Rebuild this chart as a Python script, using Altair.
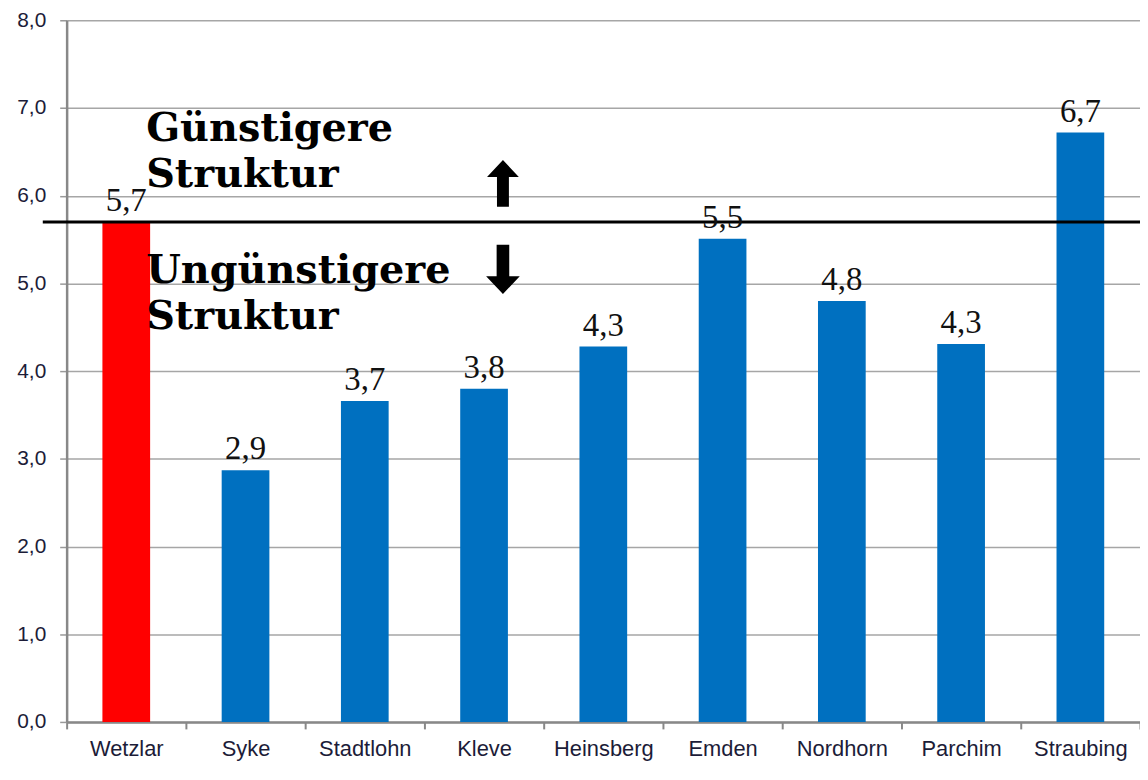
import altair as alt
import pandas as pd

# ---- data ----
cities = ["Wetzlar", "Syke", "Stadtlohn", "Kleve", "Heinsberg",
          "Emden", "Nordhorn", "Parchim", "Straubing"]
values = [5.70, 2.87, 3.66, 3.80, 4.28, 5.51, 4.80, 4.31, 6.72]
value_labels = ["5,7", "2,9", "3,7", "3,8", "4,3", "5,5", "4,8", "4,3", "6,7"]
bar_colors = ["#FF0000", "#0070C0", "#0070C0", "#0070C0", "#0070C0",
              "#0070C0", "#0070C0", "#0070C0", "#0070C0"]
y_ticks = [0, 1, 2, 3, 4, 5, 6, 7, 8]
reference_value = [5.7]

annot_texts = ["Günstigere\nStruktur", "Ungünstigere\nStruktur"]
annot_y = [6.62, 5.0]
annot_city = ["Wetzlar", "Wetzlar"]

arrow_y = [6.14, 5.16]
arrow_city = ["Kleve", "Kleve"]
arrow_dir = ["up", "down"]

# ---- layout ----
W = 1080
H = 706

bars_df = pd.DataFrame({"city": cities, "value": values,
                        "label": value_labels, "color": bar_colors})
ref_df = pd.DataFrame({"ref": reference_value})
annot_df = pd.DataFrame({"city": annot_city, "y": annot_y, "text": annot_texts})
arrow_df = pd.DataFrame({"city": arrow_city, "y": arrow_y, "dir": arrow_dir})

x_enc = alt.X("city:N", sort=cities,
              scale=alt.Scale(paddingInner=0, paddingOuter=0),
              axis=alt.Axis(title=None, labelAngle=0, labelFont="Liberation Sans",
                            labelFontSize=22, labelColor="#1c1c38",
                            labelPadding=10, tickSize=7, tickColor="#888888",
                            tickWidth=2, tickBand="extent",
                            domainColor="#888888", domainWidth=2.5, grid=False))
y_scale = alt.Scale(domain=[0, 8], nice=False)
y_axis = alt.Axis(title=None, values=y_ticks,
                  labelExpr="replace(format(datum.value, '.1f'), '.', ',')",
                  labelFont="Liberation Sans", labelFontSize=21,
                  labelColor="#1c1c38", labelPadding=14,
                  tickSize=7, tickColor="#999999", tickWidth=1.5,
                  domainColor="#888888", domainWidth=2.5,
                  grid=True, gridColor="#a6a6a6", gridWidth=1.5)

bars = alt.Chart(bars_df).mark_bar(size=48).encode(
    x=x_enc,
    y=alt.Y("value:Q", scale=y_scale, axis=y_axis),
    color=alt.Color("color:N", scale=None),
)

labels = alt.Chart(bars_df).mark_text(
    font="Liberation Serif", fontSize=33, color="#111111",
    baseline="alphabetic", dy=-11,
).encode(
    x=alt.X("city:N", sort=cities),
    y=alt.Y("value:Q", scale=y_scale),
    text="label:N",
)

ref_rule = alt.Chart(ref_df).mark_rule(color="black", strokeWidth=3).encode(
    y=alt.Y("ref:Q", scale=y_scale),
    x=alt.value(-24),
    x2=alt.value(W),
)

annot = alt.Chart(annot_df).mark_text(
    font="DejaVu Serif", fontWeight="bold", fontSize=40, color="black",
    align="left", baseline="alphabetic", lineBreak="\n", lineHeight=46, dx=20,
).encode(
    x=alt.X("city:N", sort=cities),
    y=alt.Y("y:Q", scale=y_scale),
    text="text:N",
)

up_path = "M0,-0.94 L0.64,-0.26 L0.24,-0.26 L0.24,0.94 L-0.24,0.94 L-0.24,-0.26 L-0.64,-0.26 Z"
down_path = "M0,0.94 L0.64,0.26 L0.24,0.26 L0.24,-0.94 L-0.24,-0.94 L-0.24,0.26 L-0.64,0.26 Z"

arrow_up = alt.Chart(arrow_df).transform_filter(alt.datum.dir == "up").mark_point(
    shape=up_path, filled=True, fill="black", strokeWidth=0, opacity=1,
    size=2500, xOffset=19,
).encode(x=alt.X("city:N", sort=cities), y=alt.Y("y:Q", scale=y_scale))

arrow_down = alt.Chart(arrow_df).transform_filter(alt.datum.dir == "down").mark_point(
    shape=down_path, filled=True, fill="black", strokeWidth=0, opacity=1,
    size=2800, xOffset=19,
).encode(x=alt.X("city:N", sort=cities), y=alt.Y("y:Q", scale=y_scale))

chart = alt.layer(bars, ref_rule, labels, annot, arrow_up, arrow_down).properties(
    width=W, height=H,
    autosize=alt.AutoSizeParams(type="none"),
    padding={"left": 59, "top": 10, "right": 0, "bottom": 44},
    background="white",
).configure_view(stroke=None)

chart.save("out.html", embed_options={"renderer": "svg", "actions": False})
